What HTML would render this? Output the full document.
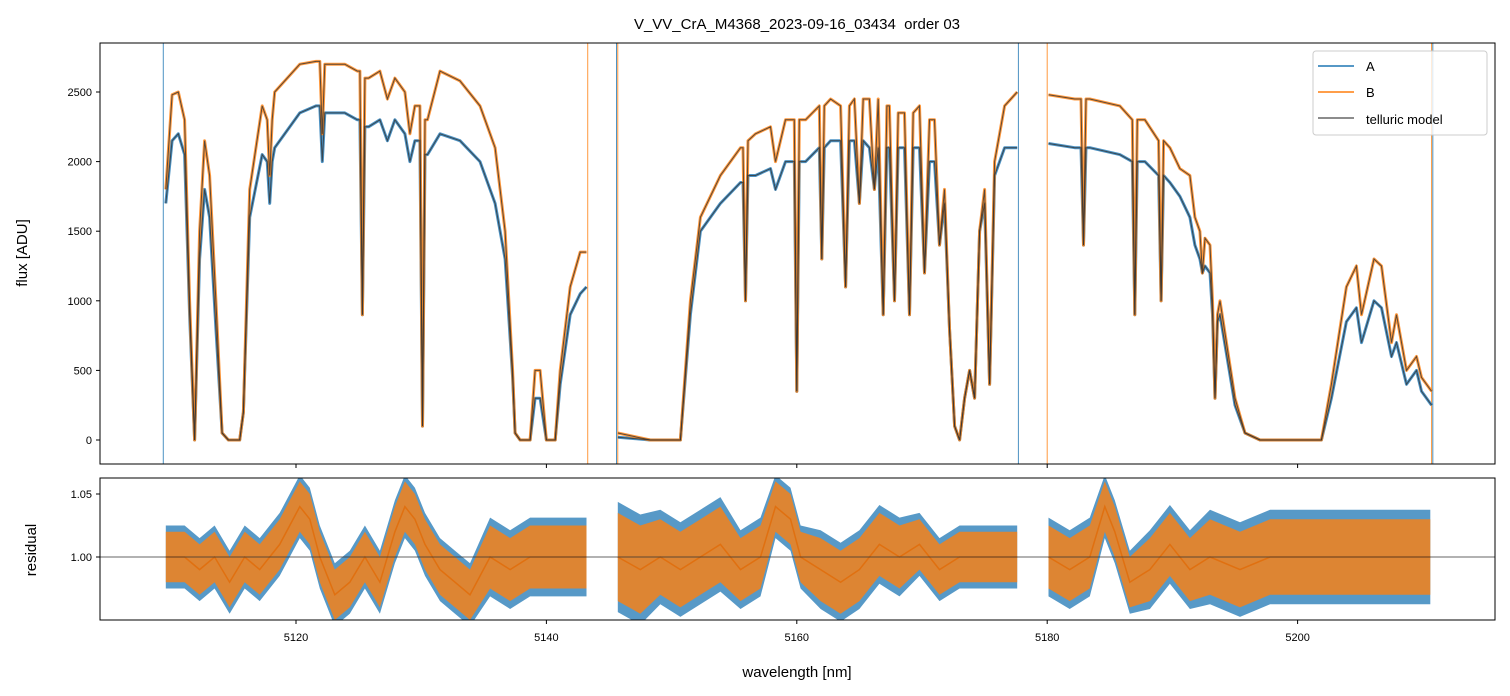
<!DOCTYPE html>
<html><head><meta charset="utf-8"><style>
body{margin:0;background:#fff;}
svg{display:block;font-family:"Liberation Sans","DejaVu Sans",sans-serif;}
</style></head><body>
<svg id="chart" width="1510" height="696" viewBox="0 0 1510 696">
<rect width="1510" height="696" fill="#fff"/>
<text x="797" y="29" font-size="15" text-anchor="middle">V_VV_CrA_M4368_2023-09-16_03434&#160; order 03</text>
<defs>
<clipPath id="ctop"><rect x="100" y="43" width="1395" height="421"/></clipPath>
<clipPath id="cbot"><rect x="100" y="478" width="1395" height="142"/></clipPath>
</defs>
<g id="topMarks" clip-path="url(#ctop)"></g>
<g id="botMarks" clip-path="url(#cbot)"></g>
<g id="axes"></g>
<rect x="100" y="43" width="1395" height="421" fill="none" stroke="#000" stroke-width="1"/>
<rect x="100" y="478" width="1395" height="142" fill="none" stroke="#000" stroke-width="1"/>
<text x="27" y="253" font-size="15" text-anchor="middle" transform="rotate(-90 27 253)">flux [ADU]</text>
<text x="36" y="550" font-size="15" text-anchor="middle" transform="rotate(-90 36 550)">residual</text>
<text x="797" y="677" font-size="15" text-anchor="middle">wavelength [nm]</text>
<g>
<rect x="1313" y="51" width="174" height="84" rx="3" fill="#fff" fill-opacity="0.8" stroke="#ccc"/>
<line x1="1318" y1="66" x2="1354" y2="66" stroke="#1f77b4" stroke-width="1.5"/>
<text x="1366" y="71" font-size="13">A</text>
<line x1="1318" y1="92" x2="1354" y2="92" stroke="#ff7f0e" stroke-width="1.5"/>
<text x="1366" y="97" font-size="13">B</text>
<line x1="1318" y1="118" x2="1354" y2="118" stroke="#666" stroke-width="1.5"/>
<text x="1366" y="124" font-size="13">telluric model</text>
</g>
</svg>
<script>
const wl=[5109.6,5110.1,5110.6,5111.1,5111.5,5111.9,5112.3,5112.7,5113.1,5113.6,5114.1,5114.6,5115.5,5115.8,5116.3,5117.3,5117.7,5117.9,5118.1,5118.3,5120.3,5121.6,5121.9,5122.1,5122.3,5122.6,5123.9,5124.9,5125.1,5125.3,5125.5,5125.8,5126.7,5127.3,5127.9,5128.7,5129.1,5129.5,5129.9,5130.1,5130.3,5130.5,5131.5,5133.1,5134.7,5135.9,5136.7,5137.3,5137.5,5137.9,5138.7,5139.1,5139.5,5140.0,5140.7,5141.1,5141.9,5142.7,5143.2,null,
5145.7,5148.3,5150.7,5151.5,5152.3,5153.9,5155.5,5155.7,5155.9,5156.1,5156.7,5157.9,5158.3,5159.1,5159.8,5160.0,5160.2,5160.7,5161.8,5162.0,5162.2,5162.7,5163.5,5163.9,5164.2,5164.6,5165.0,5165.3,5165.8,5166.2,5166.5,5166.9,5167.2,5167.4,5167.8,5168.1,5168.6,5169.0,5169.3,5169.8,5170.2,5170.6,5171.0,5171.4,5171.8,5172.2,5172.6,5173.0,5173.4,5173.8,5174.2,5174.6,5175.0,5175.4,5175.8,5176.6,5177.6,null,
5180.1,5182.2,5182.7,5182.9,5183.1,5183.4,5185.8,5186.8,5187.0,5187.2,5187.8,5188.9,5189.1,5189.3,5189.8,5190.6,5191.4,5191.8,5192.2,5192.4,5192.6,5193.0,5193.2,5193.4,5193.6,5193.8,5195.0,5195.8,5197.0,5201.9,5202.7,5203.9,5204.7,5205.1,5206.1,5206.7,5207.5,5207.9,5208.7,5209.5,5209.9,5210.7];
const fluxB=[1800,2480,2500,2300,1000,0,1500,2150,1900,1000,50,0,0,200,1800,2400,2300,1900,2300,2500,2700,2720,2720,2200,2700,2700,2700,2650,2650,900,2600,2600,2650,2450,2600,2500,2200,2400,2400,100,2300,2300,2650,2580,2400,2100,1500,500,50,0,0,500,500,0,0,500,1100,1350,1350,null,
50,0,0,1000,1600,1900,2100,2100,1000,2150,2200,2250,2000,2300,2300,350,2300,2300,2400,1300,2400,2450,2400,1100,2400,2450,1700,2450,2450,1800,2450,900,2400,2400,1000,2350,2350,900,2350,2400,1200,2300,2300,1400,1800,800,100,0,300,500,300,1500,1800,400,2000,2400,2500,null,
2480,2450,2450,1400,2450,2450,2400,2300,900,2300,2300,2150,1000,2150,2100,1950,1900,1600,1500,1200,1450,1400,1000,300,900,1000,300,50,0,0,400,1100,1250,900,1300,1250,700,900,500,600,450,350];
const fluxA=[1700,2150,2200,2050,900,0,1300,1800,1600,800,50,0,0,200,1600,2050,2000,1700,2000,2100,2350,2400,2400,2000,2350,2350,2350,2300,2300,900,2250,2250,2300,2150,2300,2200,2000,2150,2150,100,2050,2050,2200,2150,2000,1700,1300,450,50,0,0,300,300,0,0,400,900,1050,1100,null,
20,0,0,900,1500,1700,1850,1850,1000,1900,1900,1950,1800,2000,2000,350,2000,2000,2100,1300,2100,2150,2150,1100,2150,2150,1700,2150,2100,1800,2100,900,2100,2100,1000,2100,2100,900,2100,2100,1200,2000,2000,1400,1700,800,100,0,300,500,300,1500,1700,400,1900,2100,2100,null,
2130,2100,2100,1400,2100,2100,2050,2000,900,2000,2000,1900,1000,1900,1850,1750,1600,1400,1300,1200,1250,1200,900,300,850,900,250,50,0,0,300,850,950,700,1000,950,600,700,400,500,350,250];
const spikeWlA=[5109.4,5145.6,5177.7,5210.8];
const spikeWlB=[5143.3,5145.7,5180.0,5210.7];
const resWl=[5109.6,5111.1,5112.3,5113.5,5114.7,5115.9,5117.1,5118.7,5120.3,5121.1,5121.9,5123.1,5124.3,5125.5,5126.7,5127.9,5128.7,5129.5,5130.3,5131.5,5132.7,5133.9,5135.5,5137.1,5138.7,5141.1,5143.2,null,
5145.7,5147.5,5149.1,5150.7,5152.3,5153.9,5155.5,5157.1,5158.3,5159.5,5160.3,5161.9,5163.5,5165.0,5166.6,5168.2,5169.8,5171.4,5173.0,5174.6,5176.2,5177.6,null,
5180.1,5181.8,5183.4,5184.6,5185.4,5186.6,5188.2,5189.8,5191.4,5193.0,5195.4,5197.8,5200.2,5202.6,5205.1,5208.2,5210.6];
const resTrend=[1.00,1.00,0.99,1.00,0.98,1.00,0.99,1.01,1.04,1.03,1.00,0.97,0.98,1.00,0.98,1.02,1.04,1.03,1.01,0.99,0.98,0.97,1.00,0.99,1.00,1.00,1.00,null,
1.00,0.99,1.00,0.99,1.00,1.01,0.99,1.00,1.04,1.03,1.00,0.99,0.98,0.99,1.01,1.00,1.01,0.99,1.00,1.00,1.00,1.00,null,
1.00,0.99,1.00,1.04,1.02,0.98,0.99,1.01,0.99,1.00,0.99,1.00,1.00,1.00,1.00,1.00,1.00];
const resScatter=[0.02,0.02,0.02,0.02,0.02,0.02,0.02,0.02,0.02,0.02,0.02,0.02,0.02,0.02,0.02,0.02,0.02,0.02,0.02,0.02,0.02,0.02,0.025,0.025,0.025,0.025,0.025,null,
0.035,0.035,0.03,0.03,0.03,0.03,0.025,0.025,0.02,0.02,0.02,0.025,0.025,0.025,0.025,0.025,0.02,0.02,0.02,0.02,0.02,0.02,null,
0.025,0.025,0.025,0.02,0.02,0.02,0.025,0.025,0.025,0.03,0.03,0.03,0.03,0.03,0.03,0.03,0.03];
const xTicks=[5120,5140,5160,5180,5200];
const yTicks=[0,500,1000,1500,2000,2500];
const rTicks=[1.00,1.05];

const NS='http://www.w3.org/2000/svg';
const X=w=>296+(w-5120)*12.52;
const Y=f=>440-f*0.1392;
const R=r=>557-(r-1)*1260;
function mk(tag,attrs,parent){const e=document.createElementNS(NS,tag);for(const k in attrs)e.setAttribute(k,attrs[k]);parent.appendChild(e);return e;}
function pathFrom(xs,ys,fx,fy){let d='',pen=false;for(let i=0;i<xs.length;i++){if(xs[i]===null||ys[i]===null){pen=false;continue;}d+=(pen?'L':'M')+fx(xs[i]).toFixed(1)+' '+fy(ys[i]).toFixed(1);pen=true;}return d;}
function bandFrom(xs,mid,spr,fx,fy){let segs=[],cur=[];for(let i=0;i<xs.length;i++){if(xs[i]===null){segs.push(cur);cur=[];}else cur.push(i);}segs.push(cur);let d='';for(const s of segs){if(!s.length)continue;let up=s.map(i=>fx(xs[i]).toFixed(1)+' '+fy(mid[i]+spr[i]).toFixed(1));let dn=s.slice().reverse().map(i=>fx(xs[i]).toFixed(1)+' '+fy(mid[i]-spr[i]).toFixed(1));d+='M'+up.join('L')+'L'+dn.join('L')+'Z';}return d;}
const topG=document.getElementById('topMarks'),botG=document.getElementById('botMarks'),axG=document.getElementById('axes');

let p;
for(const w of spikeWlA){
  p=mk('line',{x1:X(w),x2:X(w),y1:43,y2:464,stroke:'#1f77b4','stroke-width':1,'stroke-opacity':0.8},topG);
  
  
}
for(const w of spikeWlB){
  p=mk('line',{x1:X(w),x2:X(w),y1:43,y2:464,stroke:'#ff7f0e','stroke-width':1,'stroke-opacity':0.8},topG);
  
  
}
p=mk('path',{d:pathFrom(wl,fluxA,X,Y),fill:'none',stroke:'#1f77b4','stroke-width':3,'stroke-opacity':0.8,'stroke-linejoin':'round'},topG);


p=mk('path',{d:pathFrom(wl,fluxB,X,Y),fill:'none',stroke:'#ff7f0e','stroke-width':3,'stroke-opacity':0.8,'stroke-linejoin':'round'},topG);


p=mk('path',{d:pathFrom(wl,fluxA,X,Y),fill:'none',stroke:'#333','stroke-width':1,'stroke-opacity':0.8},topG);


p=mk('path',{d:pathFrom(wl,fluxB,X,Y),fill:'none',stroke:'#333','stroke-width':1,'stroke-opacity':0.8},topG);



const sA=resScatter.map(v=>v===null?null:v*1.25);
p=mk('path',{d:bandFrom(resWl,resTrend,sA,X,R),fill:'#1f77b4','fill-opacity':0.75},botG);


p=mk('path',{d:bandFrom(resWl,resTrend,resScatter,X,R),fill:'#ff7f0e','fill-opacity':0.8},botG);


p=mk('path',{d:pathFrom(resWl,resTrend,X,R),fill:'none',stroke:'#e07010','stroke-width':1.5},botG);


p=mk('line',{x1:100,x2:1495,y1:R(1),y2:R(1),stroke:'#333','stroke-width':0.7},botG);



for(const t of xTicks){
  const x=X(t);
  let l=mk('line',{x1:x,x2:x,y1:464,y2:468,stroke:'#000'},axG);
  
  
  l=mk('line',{x1:x,x2:x,y1:620,y2:624,stroke:'#000'},axG);
  
  
  const tx=mk('text',{x:x,y:641,'font-size':11,'text-anchor':'middle'},axG);
  tx.textContent=t;
  
  
}
for(const t of yTicks){
  const y=Y(t);
  let l=mk('line',{x1:96,x2:100,y1:y,y2:y,stroke:'#000'},axG);
  
  
  const tx=mk('text',{x:92,y:y+4,'font-size':11,'text-anchor':'end'},axG);
  tx.textContent=t;
  
  
}
for(const t of rTicks){
  const y=R(t);
  let l=mk('line',{x1:96,x2:100,y1:y,y2:y,stroke:'#000'},axG);
  
  
  const tx=mk('text',{x:92,y:y+4,'font-size':11,'text-anchor':'end'},axG);
  tx.textContent=t.toFixed(2);
  
  
}
</script>
</body></html>
